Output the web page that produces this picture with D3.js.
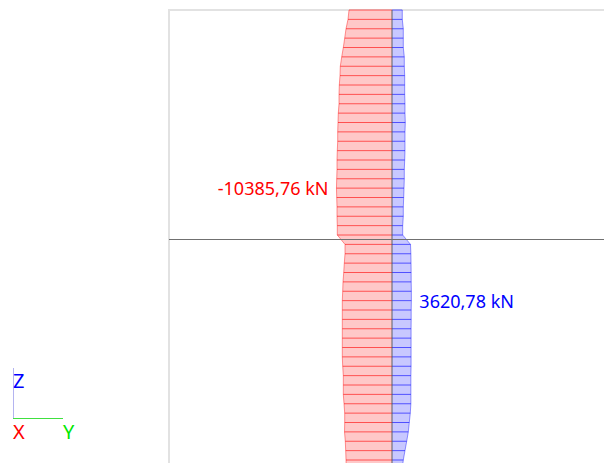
<!DOCTYPE html>
<html>
<head>
<meta charset="utf-8">
<script src="https://cdn.jsdelivr.net/npm/d3@7"></script>
<style>
  html, body { margin: 0; padding: 0; background: #fff; overflow: hidden; }
  svg { display: block; }
  text { font-family: "Noto Sans", sans-serif; }
</style>
</head>
<body>
<svg class="force-diagram" width="604" height="463"></svg>
<script>
// Elevation of each section (m)
const levels = [
    12, 11.5, 11, 10.5, 10, 9.5, 9, 8.5, 8, 7.5, 7, 6.5, 6, 5.5, 5, 4.5, 4, 3.5, 3, 2.5, 2, 1.5, 1, 0.5, 0,
    -0.5, -1, -1.5, -2, -2.5, -3, -3.5, -4, -4.5, -5, -5.5, -6, -6.5, -7, -7.5, -8, -8.5, -9, -9.5, -10, -10.5, -11, -11.5, -12, -12.5
];

// Compression side (kN)
const compression = [
    -8040, -8230, -8600, -8845, -9105, -9405, -9670, -9725, -9855, -9910, -9910, -10040, -10100, -10155, -10155, -10230, -10285, -10285, -10340, -10385.76, -10340, -10285, -10285, -10230, -10230,
    -8790, -8790, -8920, -9030, -9165, -9220, -9295, -9295, -9295, -9295, -9295, -9295, -9295, -9220, -9105, -9105, -9105, -8975, -8845, -8845, -8880, -8735, -8660, -8600, -8560
];

// Tension side (kN)
const tension = [
    1925, 1925, 2115, 2115, 2115, 2300, 2300, 2375, 2375, 2375, 2430, 2430, 2485, 2430, 2430, 2430, 2375, 2300, 2300, 2245, 2190, 2115, 2115, 2000, 2000,
    3460, 3530, 3560, 3580, 3590, 3620.78, 3620.78, 3590, 3590, 3570, 3570, 3570, 3570, 3570, 3530, 3530, 3530, 3530, 3420, 3235, 3050, 2750, 2430, 2115, 1900
];

const floorLevel = -0.24;
const minLabel = '-10385,76 kN';
const maxLabel = '3620,78 kN';

const svg = d3.select('.force-diagram');

const margin = { top: 10, left: 169 };
const width = 604;
const height = 463;

// 187 kN per pixel, zero at x = 392
const xScale = d3.scaleLinear().domain([-10385.76, 3620.78]).range([336.46, 411.36]);
const yScale = d3.scaleLinear().domain([12, -12]).range([10, 460]);

const rows = levels.map((z, i) => ({ z, min: compression[i], max: tension[i] }));

// Frame of the view
svg.append('path')
    .attr('fill', 'none')
    .attr('stroke', '#e2e2e2')
    .attr('stroke-width', 2)
    .attr('d', `M${margin.left},${height}V${margin.top}H${width}`);

// Filled bands
const areaMin = d3.area().x0(xScale(0)).x1(d => xScale(d.min)).y(d => yScale(d.z));
const areaMax = d3.area().x0(xScale(0)).x1(d => xScale(d.max)).y(d => yScale(d.z));

svg.append('path').datum(rows).attr('fill', '#ffc8c8').attr('d', areaMin);
svg.append('path').datum(rows).attr('fill', '#c8c8ff').attr('d', areaMax);

// Section lines
svg.append('g').selectAll('line')
    .data(rows)
    .join('line')
    .attr('x1', xScale(0))
    .attr('x2', d => xScale(d.min))
    .attr('y1', d => yScale(d.z))
    .attr('y2', d => yScale(d.z))
    .attr('stroke', '#ff0000')
    .attr('stroke-opacity', 0.6);

svg.append('g').selectAll('line')
    .data(rows)
    .join('line')
    .attr('x1', xScale(0))
    .attr('x2', d => xScale(d.max))
    .attr('y1', d => yScale(d.z))
    .attr('y2', d => yScale(d.z))
    .attr('stroke', '#0000ff')
    .attr('stroke-opacity', 0.6);

// Outlines
const outlineMin = d3.line().x(d => xScale(d.min)).y(d => yScale(d.z));
const outlineMax = d3.line().x(d => xScale(d.max)).y(d => yScale(d.z));

svg.append('path').datum(rows)
    .attr('fill', 'none')
    .attr('stroke', '#ff0000')
    .attr('stroke-opacity', 0.4)
    .attr('d', outlineMin);

svg.append('path').datum(rows)
    .attr('fill', 'none')
    .attr('stroke', '#0000ff')
    .attr('stroke-opacity', 0.4)
    .attr('d', outlineMax);

// Member axis and floor line
svg.append('line')
    .attr('x1', xScale(0))
    .attr('x2', xScale(0))
    .attr('y1', margin.top)
    .attr('y2', height)
    .attr('stroke', '#555555')
    .attr('stroke-opacity', 0.45)
    .attr('stroke-width', 2);

svg.append('line')
    .attr('x1', margin.left)
    .attr('x2', width)
    .attr('y1', yScale(floorLevel))
    .attr('y2', yScale(floorLevel))
    .attr('stroke', '#707070');

// Extreme value labels
svg.append('text')
    .attr('x', xScale(-10385.76) - 8)
    .attr('y', yScale(2.5) + 7)
    .attr('text-anchor', 'end')
    .attr('font-size', 18)
    .attr('fill', '#ff0000')
    .text(minLabel);

svg.append('text')
    .attr('x', xScale(3620.78) + 8)
    .attr('y', yScale(-3.3) + 11)
    .attr('font-size', 18)
    .attr('fill', '#0000ff')
    .text(maxLabel);

// Axis triad
const triad = svg.append('g');
triad.append('line').attr('x1', 13.5).attr('x2', 13.5).attr('y1', 368).attr('y2', 418).attr('stroke', '#b4b4f0');
triad.append('line').attr('x1', 13).attr('x2', 63).attr('y1', 418.5).attr('y2', 418.5).attr('stroke', '#40e040');

const triadLabels = [
    { name: 'Z', color: '#0000ff', x: 13, y: 388 },
    { name: 'X', color: '#ff0000', x: 13, y: 439 },
    { name: 'Y', color: '#00e800', x: 63, y: 439 }
];

triad.selectAll('text')
    .data(triadLabels)
    .join('text')
    .attr('x', d => d.x)
    .attr('y', d => d.y)
    .attr('font-size', 20)
    .attr('fill', d => d.color)
    .text(d => d.name);
</script>
</body>
</html>
